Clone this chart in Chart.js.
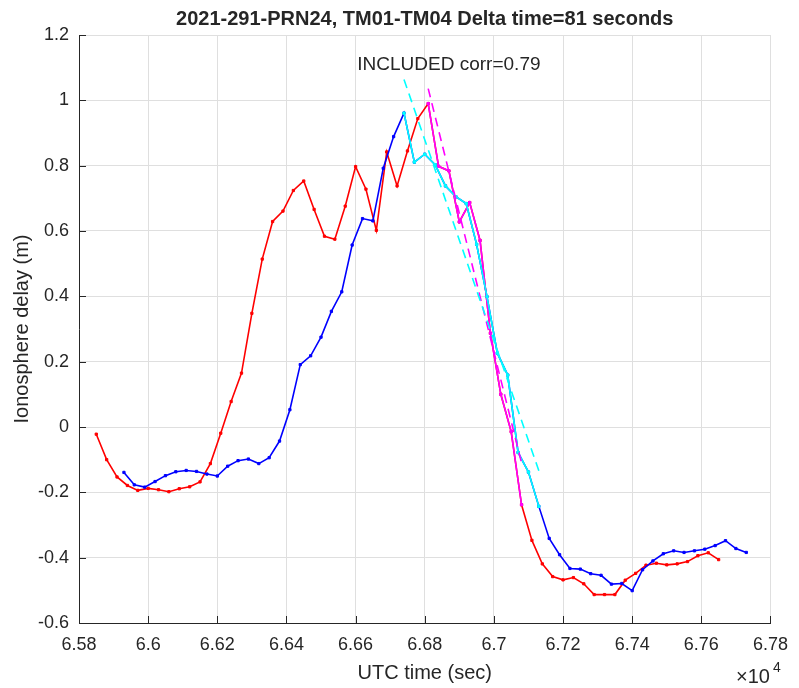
<!DOCTYPE html>
<html>
<head>
<meta charset="utf-8">
<title>Ionosphere delay</title>
<script src="https://cdn.jsdelivr.net/npm/chart.js@4.4.1/dist/chart.umd.min.js"></script>
<style>
    html, body { margin: 0; padding: 0; background: #fff; }
    #wrap { width: 799px; height: 688px; }
</style>
</head>
<body>
<div id="wrap"><canvas id="chart" width="799" height="688"></canvas></div>
<script>
// TM01 station (red), times in UTC seconds
const redTimes = [
    65850, 65880, 65910, 65940, 65970, 66000, 66030, 66060, 66090, 66120,
    66150, 66180, 66210, 66240, 66270, 66300, 66330, 66360, 66390, 66420,
    66450, 66480, 66510, 66540, 66570, 66600, 66630, 66660, 66690, 66720,
    66750, 66780, 66810, 66840, 66870, 66900, 66930, 66960, 66990, 67020,
    67050, 67080, 67110, 67140, 67170, 67200, 67230, 67260, 67290, 67320,
    67350, 67380, 67410, 67440, 67470, 67500, 67530, 67560, 67590, 67620,
    67650
];
const redDelay = [
    -0.022, -0.100, -0.153, -0.179, -0.194, -0.188, -0.192, -0.198, -0.189, -0.183,
    -0.168, -0.112, -0.019, 0.078, 0.165, 0.348, 0.514, 0.629, 0.661, 0.724,
    0.753, 0.666, 0.584, 0.575, 0.676, 0.797, 0.728, 0.602, 0.842, 0.738,
    0.845, 0.944, 0.990, 0.798, 0.784, 0.628, 0.687, 0.571, 0.287, 0.100,
    -0.014, -0.238, -0.347, -0.419, -0.458, -0.468, -0.461, -0.480, -0.513, -0.513,
    -0.513, -0.469, -0.448, -0.423, -0.417, -0.422, -0.419, -0.412, -0.394, -0.385,
    -0.406
];

// TM04 station (blue)
const blueTimes = [
    65930, 65960, 65990, 66020, 66050, 66080, 66110, 66140, 66170, 66200,
    66230, 66260, 66290, 66320, 66350, 66380, 66410, 66440, 66470, 66500,
    66530, 66560, 66590, 66620, 66650, 66680, 66710, 66740, 66770, 66800,
    66830, 66860, 66890, 66920, 66950, 66980, 67010, 67040, 67070, 67100,
    67130, 67160, 67190, 67220, 67250, 67280, 67310, 67340, 67370, 67400,
    67430, 67460, 67490, 67520, 67550, 67580, 67610, 67640, 67670, 67700,
    67730
];
const blueDelay = [
    -0.139, -0.177, -0.184, -0.167, -0.149, -0.137, -0.133, -0.136, -0.144, -0.150,
    -0.120, -0.103, -0.098, -0.112, -0.094, -0.043, 0.053, 0.191, 0.218, 0.275,
    0.354, 0.414, 0.557, 0.638, 0.631, 0.792, 0.889, 0.961, 0.811, 0.835,
    0.803, 0.738, 0.705, 0.684, 0.559, 0.399, 0.226, 0.159, -0.078, -0.138,
    -0.243, -0.341, -0.391, -0.433, -0.435, -0.449, -0.454, -0.481, -0.479, -0.501,
    -0.437, -0.410, -0.388, -0.379, -0.384, -0.379, -0.374, -0.363, -0.348, -0.372,
    -0.384
];

// index ranges of the samples used for the correlation
const redWindow = [32, 42];
const blueWindow = [27, 41];

// end points of the fitted lines (dashed)
const magentaFitTimes = [66810, 67080];
const magentaFitDelay = [1.036, -0.11];
const cyanFitTimes = [66740, 67130];
const cyanFitDelay = [1.064, -0.134];

const titleText = '2021-291-PRN24, TM01-TM04 Delta time=81 seconds';
const noteText = 'INCLUDED corr=0.79';
const notePos = [66605, 1.11];
const xLabel = 'UTC time (sec)';
const yLabel = 'Ionosphere delay (m)';

const FONT = '"Liberation Sans", Arial, Helvetica, sans-serif';
const INK = '#262626';

function toPoints(times, values) {
    return times.map((t, i) => ({ x: t, y: values[i] }));
}

function seriesLine(label, color, points, order) {
    return {
        label: label,
        data: points,
        borderColor: color,
        backgroundColor: color,
        borderWidth: 1.6,
        pointStyle: 'rect',
        pointRadius: 1.6,
        pointBorderWidth: 1,
        tension: 0,
        order: order
    };
}

function fitLine(label, color, points, order) {
    return {
        label: label,
        data: points,
        borderColor: color,
        borderWidth: 1.6,
        borderDash: [9, 6],
        pointRadius: 0,
        order: order
    };
}

// titles, annotation, exponent and inward ticks, MATLAB style
const matlabText = {
    id: 'matlabText',
    afterDraw(chart) {
        const ctx = chart.ctx;
        const area = chart.chartArea;
        const xs = chart.scales.x;
        const ys = chart.scales.y;
        ctx.save();

        ctx.strokeStyle = INK;
        ctx.lineWidth = 1;
        xs.ticks.forEach(t => {
            const px = Math.round(xs.getPixelForValue(t.value)) + 0.5;
            ctx.beginPath();
            ctx.moveTo(px, area.bottom);
            ctx.lineTo(px, area.bottom - 7);
            ctx.stroke();
        });
        ys.ticks.forEach(t => {
            const py = Math.round(ys.getPixelForValue(t.value)) + 0.5;
            ctx.beginPath();
            ctx.moveTo(area.left, py);
            ctx.lineTo(area.left + 7, py);
            ctx.stroke();
        });

        ctx.fillStyle = INK;
        ctx.textAlign = 'center';
        ctx.textBaseline = 'alphabetic';
        ctx.font = 'bold 20px ' + FONT;
        ctx.fillText(titleText, (area.left + area.right) / 2, 25);

        ctx.font = '20px ' + FONT;
        ctx.fillText(xLabel, (area.left + area.right) / 2, 679);

        ctx.save();
        ctx.translate(28, (area.top + area.bottom) / 2);
        ctx.rotate(-Math.PI / 2);
        ctx.fillText(yLabel, 0, 0);
        ctx.restore();

        ctx.textAlign = 'left';
        ctx.textBaseline = 'middle';
        ctx.font = '19px ' + FONT;
        ctx.fillText(noteText, xs.getPixelForValue(notePos[0]), ys.getPixelForValue(notePos[1]));

        ctx.textBaseline = 'alphabetic';
        ctx.font = '20px ' + FONT;
        ctx.fillText('\u00d710', 736, 683);
        ctx.font = '14px ' + FONT;
        ctx.fillText('4', 773, 672);

        ctx.restore();
    }
};

document.addEventListener('DOMContentLoaded', () => {
    const ctx = document.getElementById('chart').getContext('2d');
    new Chart(ctx, {
        type: 'line',
        data: {
            datasets: [
                fitLine('TM04 fit', '#00ffff', toPoints(cyanFitTimes, cyanFitDelay), 1),
                fitLine('TM01 fit', '#ff00ff', toPoints(magentaFitTimes, magentaFitDelay), 2),
                seriesLine('TM04 window', '#00ffff',
                    toPoints(blueTimes.slice(blueWindow[0], blueWindow[1]), blueDelay.slice(blueWindow[0], blueWindow[1])), 3),
                seriesLine('TM01 window', '#ff00ff',
                    toPoints(redTimes.slice(redWindow[0], redWindow[1]), redDelay.slice(redWindow[0], redWindow[1])), 4),
                seriesLine('TM04', '#0000ff', toPoints(blueTimes, blueDelay), 5),
                seriesLine('TM01', '#ff0000', toPoints(redTimes, redDelay), 6)
            ]
        },
        options: {
            responsive: false,
            animation: false,
            layout: { padding: { top: 35, right: 20, left: 0, bottom: 0 } },
            plugins: {
                legend: { display: false },
                tooltip: { enabled: false },
                title: { display: false }
            },
            scales: {
                x: {
                    type: 'linear',
                    min: 65800,
                    max: 67800,
                    afterFit: scale => { scale.height = 65; },
                    ticks: {
                        stepSize: 200,
                        padding: 11,
                        maxRotation: 0,
                        color: INK,
                        font: { family: FONT, size: 18 },
                        callback: v => parseFloat((v / 1e4).toFixed(2)).toString()
                    },
                    grid: { color: '#dfdfdf', drawTicks: false },
                    border: { display: true, color: INK, width: 1 }
                },
                y: {
                    min: -0.6,
                    max: 1.2,
                    afterFit: scale => { scale.width = 79; },
                    ticks: {
                        stepSize: 0.2,
                        padding: 10,
                        color: INK,
                        font: { family: FONT, size: 18 },
                        callback: v => parseFloat(v.toFixed(1)).toString()
                    },
                    grid: { color: '#dfdfdf', drawTicks: false },
                    border: { display: true, color: INK, width: 1 }
                }
            }
        },
        plugins: [matlabText]
    });
});
</script>
</body>
</html>
